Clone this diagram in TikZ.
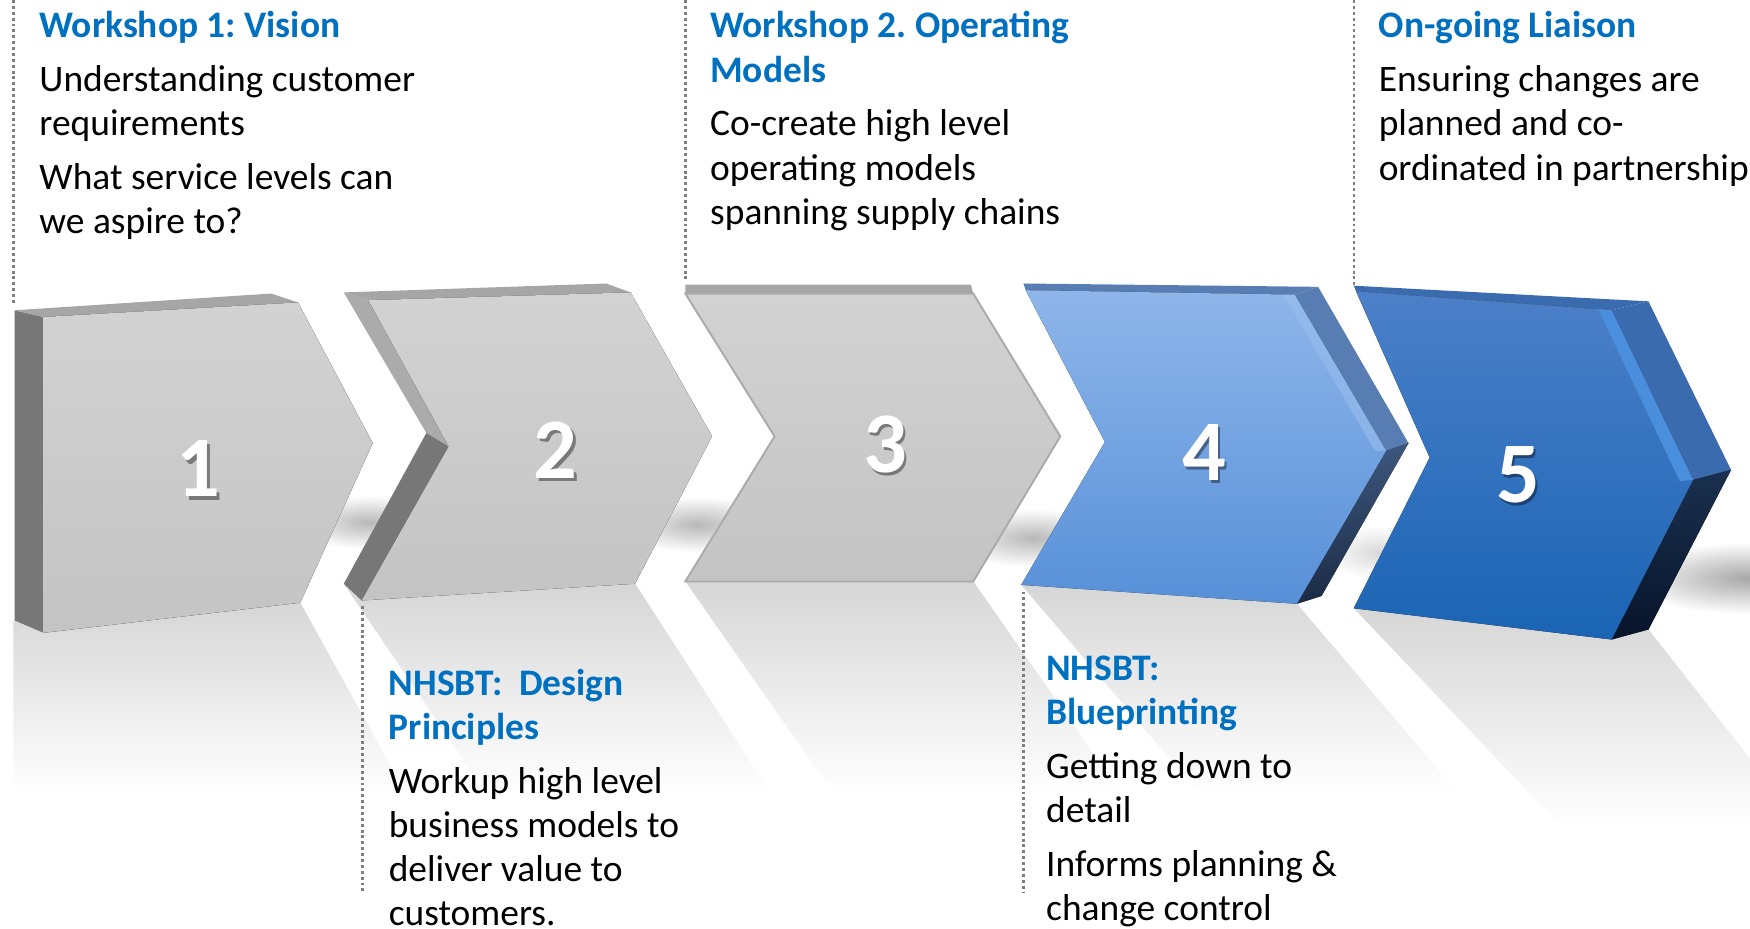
\documentclass[tikz,border=0pt]{standalone}
\usepackage{fontspec}
\usetikzlibrary{fadings}
\setmainfont{Carlito}
\frenchspacing
\definecolor{headblue}{HTML}{0070C0}
\definecolor{leadgray}{HTML}{7F7F7F}
\definecolor{gfronttop}{HTML}{D2D2D2}
\definecolor{gfrontbot}{HTML}{C4C4C4}
\definecolor{gtop}{HTML}{A6A6A6}
\definecolor{gbevel}{HTML}{ABABAB}
\definecolor{gside}{HTML}{777777}
\definecolor{bfourtop}{HTML}{8FB6EA}
\definecolor{bfourbot}{HTML}{5790D8}
\definecolor{bfourlite}{HTML}{99BEEE}
\definecolor{bfourup}{HTML}{587DB3}
\definecolor{bfourlow}{HTML}{1B2B45}
\definecolor{bfivetop}{HTML}{4C80C8}
\definecolor{bfivebot}{HTML}{1A64B4}
\definecolor{bfivelite}{HTML}{4A8FDD}
\definecolor{bfiveup}{HTML}{3A6BAE}
\definecolor{bfivelow}{HTML}{07142A}
\tikzfading[name=softblob,inner color=transparent!0,outer color=transparent!100]
\tikzfading[name=mirrorfade,top color=transparent!0,bottom color=transparent!100]
\newcommand{\stagehead}[1]{{\bfseries\color{headblue}#1}}
\begin{document}
\begin{tikzpicture}[x=0.02cm,y=-0.02cm,
  txt/.style={anchor=north west,inner sep=0pt,align=left,font=\fontsize{19.1}{22.5}\selectfont},
  lead/.style={draw=leadgray,line width=1.3pt,dash pattern=on 1.5pt off 1.5pt},
  numtxt/.style={font=\fontsize{44}{44}\selectfont\bfseries,text=white,inner sep=0pt},
  numshade/.style={font=\fontsize{44}{44}\selectfont\bfseries,text=black,opacity=0.4,inner sep=0pt},
  mirror/.style={fill=black!16,path fading=mirrorfade},
  castshadow/.style={fill=black,opacity=0.28,path fading=softblob}]
\useasboundingbox (0,0) rectangle (1568,832);
\clip (0,0) rectangle (1568,832);
% reflections
\fill[mirror] (12,556) -- (39,567) -- (269,540) -- (363,710) -- (12,710) -- cycle;
\fill[mirror] (308,523) -- (324,538) -- (569,523) -- (690,710) -- (435,710) -- cycle;
\fill[mirror] (614,521) -- (872,521) -- (1004,710) -- (746,710) -- cycle;
\fill[mirror] (915,524) -- (1162,541) -- (1306,710) -- (1074,710) -- cycle;
\fill[mirror] (1213,545) -- (1444,573) -- (1477,564) -- (1568,680) -- (1568,740) -- (1398,740) -- cycle;
% shadows between the stages
\fill[castshadow] (330,468) ellipse (70 and 24);
\fill[castshadow] (625,470) ellipse (72 and 25);
\fill[castshadow] (925,482) ellipse (75 and 26);
\fill[castshadow,opacity=0.15] (1235,495) ellipse (50 and 24);
\fill[castshadow,opacity=0.34] (1565,518) ellipse (110 and 32);
% stage 1
\fill[gside] (13,278) -- (39,284) -- (39,567) -- (13,556) -- cycle;
\fill[gtop] (13,278) -- (243,263) -- (267,271) -- (39,284) -- cycle;
\fill[top color=gfronttop,bottom color=gfrontbot] (39,284) -- (267,271) -- (334,397) -- (269,540) -- (39,567) -- cycle;
% stage 2
\fill[gtop] (308,262) -- (543,254) -- (565,262) -- (330,269) -- cycle;
\fill[gbevel] (308,262) -- (330,269) -- (402,400) -- (382,388) -- cycle;
\fill[gside] (382,388) -- (402,400) -- (324,538) -- (308,523) -- cycle;
\fill[top color=gfronttop,bottom color=gfrontbot] (330,269) -- (565,262) -- (638,391) -- (569,523) -- (324,538) -- (402,400) -- cycle;
% stage 3
\fill[gtop] (614,255) -- (870,255) -- (872,263) -- (614,263) -- cycle;
\fill[top color=gfronttop,bottom color=gfrontbot,draw=gbevel,line width=1pt] (614,263) -- (872,263) -- (950,391) -- (872,521) -- (614,521) -- (694,391) -- cycle;
% stage 4
\fill[bfourup] (917,254) -- (1181,257) -- (1160,264) -- (919,260) -- cycle;
\fill[bfourup] (1160,264) -- (1181,257) -- (1262,397) -- (1242,404) -- cycle;
\fill[top color=bfourup!70!black,bottom color=bfourlow] (1242,404) -- (1262,397) -- (1184,534) -- (1162,541) -- cycle;
\fill[top color=bfourtop,bottom color=bfourbot] (919,260) -- (1160,264) -- (1242,404) -- (1162,541) -- (915,524) -- (990,396) -- cycle;
\fill[bfourlite,opacity=0.6] (1150,264) -- (1160,264) -- (1242,404) -- (1232,404) -- cycle;
% stage 5
\fill[bfiveup] (1213,256) -- (1477,270) -- (1444,278) -- (1215,261) -- cycle;
\fill[bfiveup] (1444,278) -- (1477,270) -- (1551,421) -- (1517,430) -- cycle;
\fill[top color=bfiveup!45!black,bottom color=bfivelow] (1517,430) -- (1551,421) -- (1477,564) -- (1444,573) -- cycle;
\fill[top color=bfivetop,bottom color=bfivebot] (1215,261) -- (1444,278) -- (1517,430) -- (1444,573) -- (1213,545) -- (1281,410) -- cycle;
\fill[bfivelite] (1432,277) -- (1444,278) -- (1517,430) -- (1505,431) -- cycle;
% numbers
\node[numshade] (n1s) at (180,423) {1};
\node[numtxt] (n1) at (178,420) {1};
\node[numshade] (n2s) at (500,406) {2};
\node[numtxt] (n2) at (498,403) {2};
\node[numshade] (n3s) at (795,401) {3};
\node[numtxt] (n3) at (793,398) {3};
\node[numshade] (n4s) at (1081,408) {4};
\node[numtxt] (n4) at (1079,405) {4};
\node[numshade] (n5s) at (1362,428) {5};
\node[numtxt] (n5) at (1360,425) {5};
% leader lines
\coordinate (l1a) at (12,0);
\coordinate (l1b) at (12,272);
\coordinate (l3a) at (614,0);
\coordinate (l3b) at (614,253);
\coordinate (l5a) at (1213,0);
\coordinate (l5b) at (1213,256);
\coordinate (l2a) at (325,543);
\coordinate (l2b) at (325,800);
\coordinate (l4a) at (917,530);
\coordinate (l4b) at (917,800);
\draw[lead] (l1a) -- (l1b);
\draw[lead] (l3a) -- (l3b);
\draw[lead] (l5a) -- (l5b);
\draw[lead] (l2a) -- (l2b);
\draw[lead] (l4a) -- (l4b);
% texts
\node[txt] (vision) at (35,10) {\stagehead{Workshop 1: Vision}\\[5pt]
  Understanding customer\\ requirements\\[5pt]
  What service levels can\\ we aspire to?};
\node[txt] (operating) at (636,10) {\stagehead{Workshop 2. Operating}\\ \stagehead{Models}\\[5pt]
  Co-create high level\\ operating models\\ spanning supply chains};
\node[txt] (liaison) at (1235,10) {\stagehead{On-going Liaison}\\[5pt]
  Ensuring changes are\\ planned and co-\\ ordinated in partnership};
\node[txt] (design) at (348,599) {\stagehead{NHSBT:\ \ Design}\\ \stagehead{Principles}\\[5pt]
  Workup high level\\ business models to\\ deliver value to\\ customers.};
\node[txt] (blueprint) at (937,587) {\stagehead{NHSBT:}\\ \stagehead{Blueprinting}\\[5pt]
  Getting down to\\ detail\\[5pt]
  Informs planning \&\\ change control};
\end{tikzpicture}
\end{document}
